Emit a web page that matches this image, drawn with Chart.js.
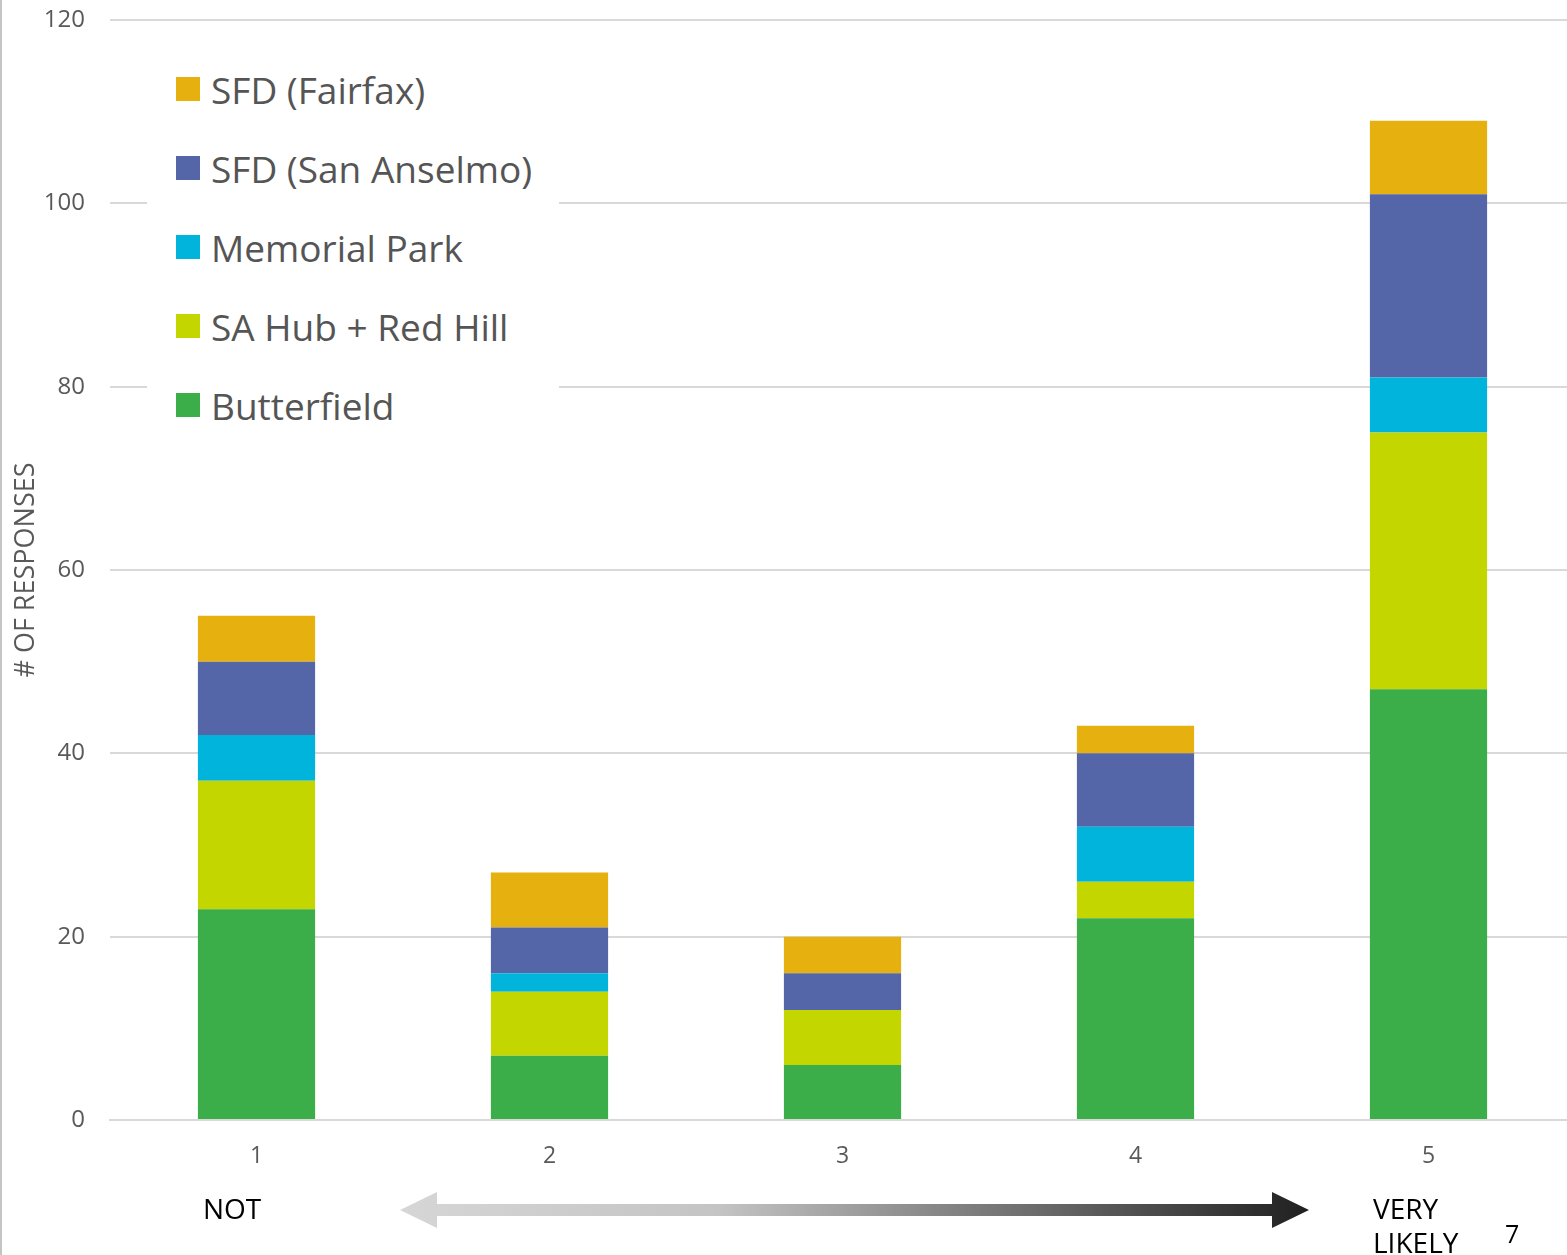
<!DOCTYPE html>
<html>
<head>
<meta charset="utf-8">
<script src="https://cdn.jsdelivr.net/npm/chart.js@4/dist/chart.umd.min.js"></script>
<style>
  html, body { margin: 0; padding: 0; background: #fff; overflow: hidden; }
  body { width: 1567px; height: 1255px; position: relative; font-family: "Open Sans", sans-serif; }
  #wrap { position: absolute; left: 0; top: 0; width: 1575px; height: 1255px; }
  #leftline { position: absolute; left: 0; top: 0; width: 2px; height: 1255px; background: #c4c4c4; }
  #legend { position: absolute; left: 147px; top: 34px; width: 412px; height: 410px; background: #fff; }
  .item { position: absolute; left: 29px; height: 40px; display: flex; align-items: center; }
  .box { width: 24px; height: 24px; margin-right: 11px; }
  .lbl { font-size: 37px; color: #555555; white-space: nowrap; }
  .note { position: absolute; font-size: 28px; color: #000; line-height: 34px; }
</style>
</head>
<body>
<div id="wrap"><canvas id="chart" width="1575" height="1255"></canvas></div>
<div id="leftline"></div>
<div id="legend"></div>
<div class="note" style="left:203px; top:1191px;">NOT</div>
<div class="note" style="left:1373px; top:1191px;">VERY<br>LIKELY</div>
<div class="note" style="left:1505px; top:1216px; font-size:25px;">7</div>
<script>
const categories = ['1', '2', '3', '4', '5'];
const butterfield = [23, 7, 6, 22, 47];
const saHubRedHill = [14, 7, 6, 4, 28];
const memorialPark = [5, 2, 0, 6, 6];
const sfdSanAnselmo = [8, 5, 4, 8, 20];
const sfdFairfax = [5, 6, 4, 3, 8];
const yTicks = [0, 20, 40, 60, 80, 100, 120];

const ctx = document.getElementById('chart').getContext('2d');

// arrow below the axis, from NOT to VERY LIKELY
const arrowPlugin = {
    id: 'arrow',
    afterDraw(chart) {
        const c = chart.ctx;
        const y = 1210;
        const g = c.createLinearGradient(400, 0, 1308, 0);
        g.addColorStop(0, '#d6d6d6');
        g.addColorStop(0.35, '#c4c4c4');
        g.addColorStop(1, '#202020');
        c.save();
        c.fillStyle = g;
        c.beginPath();
        c.moveTo(400, y);
        c.lineTo(437, y - 18);
        c.lineTo(437, y - 6);
        c.lineTo(1272, y - 6);
        c.lineTo(1272, y - 18);
        c.lineTo(1309, y);
        c.lineTo(1272, y + 18);
        c.lineTo(1272, y + 6);
        c.lineTo(437, y + 6);
        c.lineTo(437, y + 18);
        c.closePath();
        c.fill();
        c.restore();
    }
};

const chart = new Chart(ctx, {
    type: 'bar',
    data: {
        labels: categories,
        datasets: [
            { label: 'Butterfield', data: butterfield, backgroundColor: '#3BAE4A' },
            { label: 'SA Hub + Red Hill', data: saHubRedHill, backgroundColor: '#C3D600' },
            { label: 'Memorial Park', data: memorialPark, backgroundColor: '#00B4DB' },
            { label: 'SFD (San Anselmo)', data: sfdSanAnselmo, backgroundColor: '#5465A8' },
            { label: 'SFD (Fairfax)', data: sfdFairfax, backgroundColor: '#E6B00F' }
        ]
    },
    options: {
        responsive: false,
        animation: false,
        layout: { padding: { top: 20, right: 0, bottom: 0, left: 0 } },
        datasets: { bar: { barPercentage: 0.4, categoryPercentage: 1.0, borderWidth: 0 } },
        scales: {
            x: {
                stacked: true,
                grid: { display: false, drawTicks: false },
                border: { display: true, color: '#d9d9d9', width: 2 },
                ticks: { color: '#595959', font: { family: 'Open Sans', size: 23 }, padding: 23 },
                afterFit(scale) { scale.height = 135; scale.paddingLeft = 0; scale.paddingRight = 0; }
            },
            y: {
                stacked: true,
                min: 0,
                max: 120,
                afterBuildTicks(scale) { scale.ticks = yTicks.map(v => ({ value: v })); },
                grid: { color: '#d9d9d9', lineWidth: 2, drawTicks: false },
                border: { display: false },
                ticks: { color: '#595959', font: { family: 'Open Sans', size: 24 }, padding: 25 },
                title: {
                    display: true,
                    text: '# OF RESPONSES',
                    color: '#595959',
                    font: { family: 'Open Sans', size: 27 },
                    padding: { top: 10, bottom: 0 }
                },
                afterFit(scale) { scale.width = 110; scale.paddingTop = 0; scale.paddingBottom = 0; }
            }
        },
        plugins: {
            legend: { display: false },
            tooltip: { enabled: false }
        }
    },
    plugins: [arrowPlugin]
});

// legend, top series first
const legendEl = document.getElementById('legend');
chart.data.datasets.slice().reverse().forEach(function (ds, i) {
    const item = document.createElement('div');
    item.className = 'item';
    item.style.top = (35 + i * 79) + 'px';
    item.innerHTML = '<div class="box" style="background:' + ds.backgroundColor + '"></div><span class="lbl">' + ds.label + '</span>';
    legendEl.appendChild(item);
});
</script>
</body>
</html>
